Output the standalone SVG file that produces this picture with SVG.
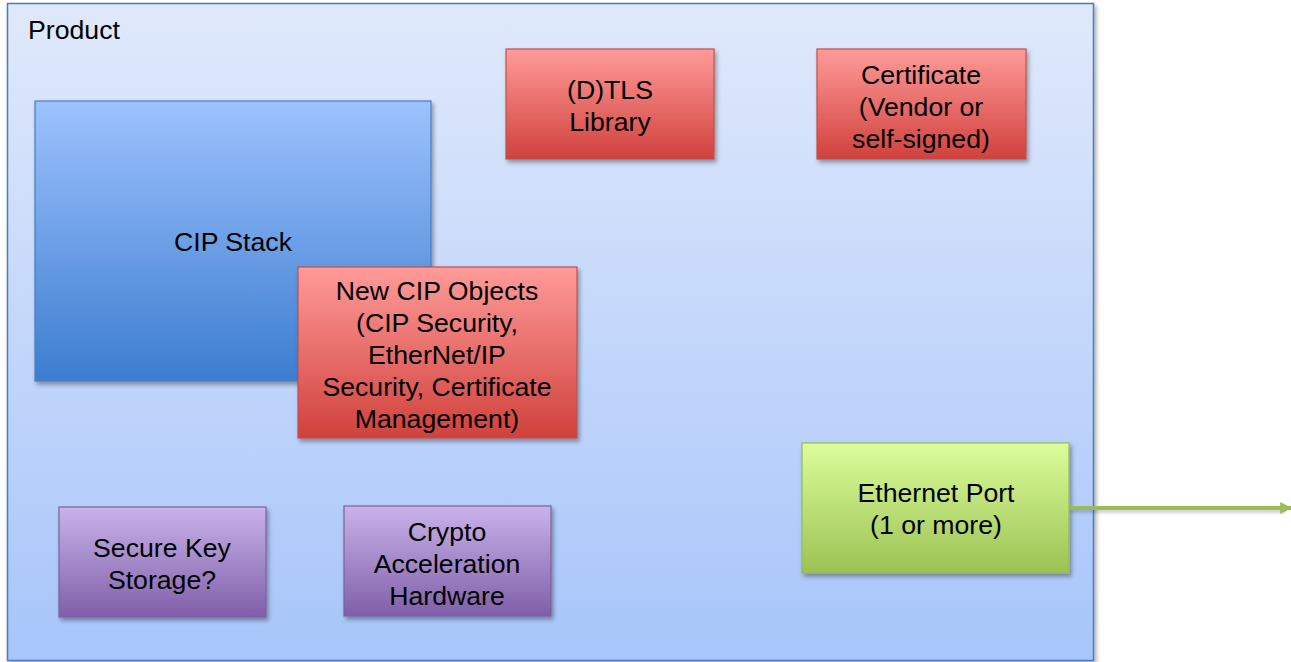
<svg xmlns="http://www.w3.org/2000/svg" width="1291" height="662" viewBox="0 0 1291 662">
  <style>
    text { font-family: "Liberation Sans", Arial, sans-serif; font-size: 26.67px; fill: #000; text-anchor: middle; }
    .box { filter: url(#shadow); }
    .red { fill: url(#gRed); stroke: #c0504d; stroke-width: 1.2; }
    .purple { fill: url(#gPurple); stroke: #7d60a0; stroke-width: 1.2; }
    .green { fill: url(#gGreen); stroke: #98b954; stroke-width: 1.2; }
    .blue { fill: url(#gBlue); stroke: #4a7ebb; stroke-width: 1.2; }
    .wire { stroke: #9bbb59; stroke-width: 4; fill: none; }
    .wire-shadow { stroke: #000; stroke-opacity: 0.18; stroke-width: 4; fill: none; }
  </style>
  <defs>
    <filter id="shadow" x="-10%" y="-10%" width="130%" height="130%">
      <feDropShadow dx="2" dy="3" stdDeviation="2" flood-color="#000" flood-opacity="0.35"/>
    </filter>
    <filter id="soft" filterUnits="userSpaceOnUse" x="1060" y="495" width="240" height="30">
      <feGaussianBlur stdDeviation="1.5"/>
    </filter>
    <linearGradient id="gOuter" x1="0" y1="0" x2="0" y2="1">
      <stop offset="0" stop-color="#e0e9fb"/>
      <stop offset="1" stop-color="#a7c5fa"/>
    </linearGradient>
    <linearGradient id="gBlue" x1="0" y1="0" x2="0" y2="1">
      <stop offset="0" stop-color="#9dc2fd"/>
      <stop offset="1" stop-color="#3c7dd0"/>
    </linearGradient>
    <linearGradient id="gRed" x1="0" y1="0" x2="0" y2="1">
      <stop offset="0" stop-color="#ff9b99"/>
      <stop offset="1" stop-color="#d0413c"/>
    </linearGradient>
    <linearGradient id="gPurple" x1="0" y1="0" x2="0" y2="1">
      <stop offset="0" stop-color="#c9b3ea"/>
      <stop offset="1" stop-color="#7f5fa9"/>
    </linearGradient>
    <linearGradient id="gGreen" x1="0" y1="0" x2="0" y2="1">
      <stop offset="0" stop-color="#dbfd9b"/>
      <stop offset="1" stop-color="#9cc253"/>
    </linearGradient>
    <marker id="arrow" viewBox="0 0 10 10" refX="9" refY="5" markerWidth="3" markerHeight="3" orient="auto" markerUnits="strokeWidth">
      <path d="M0,0 L10,5 L0,10 z" fill="#9bbb59"/>
    </marker>
  </defs>

  <!-- enclosing product boundary -->
  <g id="product">
    <rect class="box" x="7.5" y="3.5" width="1086" height="657" fill="url(#gOuter)" stroke="#4a7ebb" stroke-width="1.5"/>
    <text x="28" y="39" style="text-anchor:start">Product</text>
  </g>

  <g id="cip-stack">
    <rect class="box blue" x="35" y="101" width="396" height="280"/>
    <text x="233" y="251">CIP Stack</text>
  </g>

  <g id="new-cip-objects">
    <rect class="box red" x="298" y="267" width="279" height="171"/>
    <text x="437" y="300">New CIP Objects</text>
    <text x="437" y="332">(CIP Security,</text>
    <text x="437" y="364">EtherNet/IP</text>
    <text x="437" y="396">Security, Certificate</text>
    <text x="437" y="428">Management)</text>
  </g>

  <g id="tls-library">
    <rect class="box red" x="506" y="49" width="208" height="110"/>
    <text x="610" y="99">(D)TLS</text>
    <text x="610" y="131">Library</text>
  </g>

  <g id="certificate">
    <rect class="box red" x="817" y="49" width="209" height="110"/>
    <text x="921" y="84">Certificate</text>
    <text x="921" y="116">(Vendor or</text>
    <text x="921" y="148">self-signed)</text>
  </g>

  <g id="key-storage">
    <rect class="box purple" x="59" y="507" width="207" height="110"/>
    <text x="162" y="557">Secure Key</text>
    <text x="162" y="589">Storage?</text>
  </g>

  <g id="crypto-hw">
    <rect class="box purple" x="344" y="506" width="207" height="110"/>
    <text x="447" y="541">Crypto</text>
    <text x="447" y="573">Acceleration</text>
    <text x="447" y="605">Hardware</text>
  </g>

  <g id="ethernet-port">
    <rect class="box green" x="802" y="443" width="267" height="130"/>
    <text x="936" y="502">Ethernet Port</text>
    <text x="936" y="534">(1 or more)</text>
  </g>

  <g id="connectors">
    <line class="wire-shadow" x1="1071" y1="511" x2="1285" y2="511" filter="url(#soft)"/>
    <line class="wire" x1="1069" y1="508" x2="1291" y2="508" marker-end="url(#arrow)"/>
  </g>
</svg>
